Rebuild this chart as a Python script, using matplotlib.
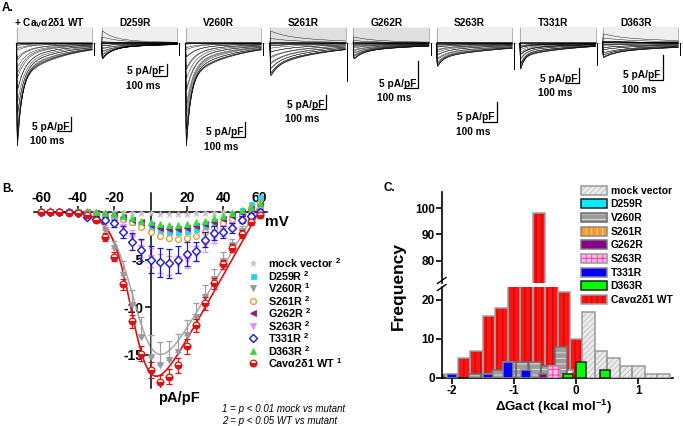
import numpy as np
import matplotlib
matplotlib.use("Agg")
import matplotlib.pyplot as plt
from matplotlib.patches import Patch
from matplotlib.lines import Line2D
from matplotlib.legend_handler import HandlerTuple

plt.rcParams["font.family"] = ["Liberation Sans", "DejaVu Sans"]
plt.rcParams["font.weight"] = "bold"
plt.rcParams["axes.unicode_minus"] = False
plt.rcParams["mathtext.fontset"] = "custom"
plt.rcParams["mathtext.rm"] = "Liberation Sans"
plt.rcParams["mathtext.bf"] = "Liberation Sans:bold"
plt.rcParams["mathtext.it"] = "Liberation Sans:italic"
plt.rcParams["hatch.linewidth"] = 0.7

W, H = 683, 426

# ── Panel A: current traces ──────────────────────────────────────────────────
TRACE_KEYS   = ["WT", "D259R", "V260R", "S261R", "G262R", "S263R", "T331R", "D363R"]
TRACE_TITLES = [r"+ Ca$_\mathbf{V}$α2δ1 WT", "D259R", "V260R", "S261R",
                "G262R", "S263R", "T331R", "D363R"]
TRACE_PEAK = [42.9, 7.1, 40.0, 12.5, 3.1, 6.3, 10.0, 3.0]     # pA/pF, largest sweep
TAU_FAST   = [30, 60, 30, 50, 60, 40, 25, 80]                  # ms
TAU_SLOW   = [320, 400, 320, 430, 500, 510, 385, 700]          # ms
SLOW_FRAC  = [0.30, 0.30, 0.30, 0.65, 0.50, 0.58, 0.44, 0.60]
TAIL_AMP   = [4.3, 5.0, 4.0, 13.5, 2.2, 6.3, 7.3, 2.4]         # pA/pF
PULSE_MS   = 540

# ── Panel B: I-V data ────────────────────────────────────────────────────────
V_MV = [-60, -55, -50, -45, -40, -35, -30, -25, -20, -15, -10, -5, 0,
        5, 10, 15, 20, 25, 30, 35, 40, 45, 50, 55, 60]
IV_MOCK  = [0, 0, 0, 0, 0, 0, 0, 0, 0, 0, -0.1, -0.1, -0.1, -0.2, -0.2, -0.2,
            -0.2, -0.1, -0.1, -0.1, 0, 0, 0.1, 0.2, 0.3]
IV_D259R = [0, 0, 0, 0, 0, 0, 0, -0.1, -0.3, -0.6, -1.0, -1.4, -1.8, -2.0, -2.1,
            -2.1, -2.0, -1.8, -1.5, -1.1, -0.7, -0.3, 0.2, 0.8, 1.6]
IV_V260R = [0, 0, 0, 0, 0, -0.1, -0.6, -1.9, -3.8, -6.6, -9.8, -13.1, -15.2,
            -16.1, -15.6, -14.7, -12.9, -11.0, -8.9, -7.0, -5.1, -3.5, -2.0, -0.9, -0.1]
IV_S261R = [0, 0, 0, 0, 0, 0, -0.1, -0.2, -0.4, -0.7, -1.1, -1.6, -2.1, -2.5, -2.7,
            -2.8, -2.7, -2.5, -2.1, -1.7, -1.2, -0.7, -0.2, 0.4, 1.0]
IV_G262R = [0, 0, 0, 0, 0, 0, -0.1, -0.2, -0.3, -0.5, -0.8, -1.1, -1.4, -1.7, -1.8,
            -1.8, -1.7, -1.5, -1.3, -1.0, -0.7, -0.4, -0.1, 0.3, 0.7]
IV_S263R = [0, 0, 0, 0, 0, -0.1, -0.3, -0.5, -0.9, -1.6, -2.6, -3.8, -4.8, -5.4, -5.6,
            -5.5, -5.0, -4.4, -3.5, -2.7, -2.0, -1.4, -0.8, -0.3, 0.2]
IV_T331R = [0, 0, 0, 0, -0.1, -0.5, -0.7, -0.8, -1.2, -2.1, -3.1, -4.0, -5.0, -5.3,
            -5.4, -5.0, -4.4, -4.1, -2.9, -2.2, -2.1, -1.7, -0.8, -0.4, 0.0]
IV_D363R = [0.2, 0.2, 0.1, 0.1, 0.1, 0.1, 0.0, -0.1, -0.2, -0.4, -0.6, -0.9, -1.1,
            -1.3, -1.4, -1.4, -1.3, -1.1, -0.9, -0.6, -0.4, -0.1, 0.2, 0.5, 0.9]
IV_WT    = [0, 0, 0, -0.1, -0.1, -0.3, -0.8, -2.6, -4.7, -7.6, -11.5, -14.9, -16.6,
            -17.9, -17.3, -16.1, -14.1, -11.9, -9.6, -7.5, -5.5, -3.8, -2.3, -1.1, -0.3]

ERR_WT    = [0.1] * 6 + [0.3, 0.4, 0.5, 0.6, 0.7, 0.8, 0.8, 0.8, 0.8, 0.8, 0.8,
                         0.7, 0.7, 0.6, 0.5, 0.4, 0.4, 0.3, 0.3]
ERR_V260R = [0.1] * 6 + [0.3, 0.5, 0.8, 1.4, 1.6, 2.1, 2.3, 2.4, 2.0, 1.9, 1.5,
                         1.4, 1.2, 1.0, 0.9, 0.7, 0.5, 0.3, 0.2]
ERR_T331R = [0.1] * 5 + [0.2, 0.3, 0.3, 0.4, 0.6, 0.9, 1.2, 1.4, 1.5, 1.5, 1.4,
                         1.3, 1.0, 0.8, 0.7, 0.6, 0.5, 0.4, 0.3, 0.3]
ERR_S263R = [0.1] * 6 + [0.2, 0.3, 0.4, 0.5, 0.7, 0.9, 1.0, 1.0, 1.0, 0.9, 0.9,
                         0.8, 0.7, 0.6, 0.5, 0.4, 0.3, 0.3, 0.2]

# Boltzmann-ohmic fit parameters (gmax, V50, slope k, Erev)
FIT_WT    = (0.34, -9.0, 5.5, 59.5)
FIT_V260R = (0.33, -7.0, 6.5, 57.5)

# ── Panel C: ΔGact histograms (bin centre, count, bin width) ─────────────────
HIST = {
    "WT":    ([-2.2, -1.8, -1.6, -1.4, -1.2, -1.0, -0.8, -0.6, -0.4, -0.2, 0.0],
              [1, 5, 7, 16, 18, 38, 45, 98, 32, 22, 10], 0.20),
    "mock":  ([-0.15, 0.2, 0.4, 0.6, 0.8, 1.0, 1.2, 1.4],
              [2, 17, 7, 5, 3, 3, 1, 1], 0.20),
    "V260R": ([-1.63, -1.44, -1.26, -1.06, -0.87, -0.66, -0.47, -0.25],
              [1, 1, 2, 4, 4, 4, 3, 8], 0.19),
    "S261R": ([], [], 0.19),
    "D259R": ([], [], 0.19),
    "G262R": ([-0.53], [1], 0.13),
    "S263R": ([-0.36], [3], 0.19),
    "T331R": ([-2.0, -1.42, -1.1, -0.8], [1, 1, 4, 2], 0.16),
    "D363R": ([-0.13, 0.07, 0.46], [1, 4, 2], 0.16),
}


def rect(x0, y0, x1, y1):
    """pixel box (top-left origin) -> figure fraction rect"""
    return [x0 / W, 1 - y1 / H, (x1 - x0) / W, (y1 - y0) / H]


def ftext(x, y, s, **kw):
    fig.text(x / W, 1 - y / H, s, **kw)


def boltz(v, g, v50, k, erev):
    return g * (v - erev) / (1 + np.exp((v50 - v) / k))


fig = plt.figure(figsize=(W / 100, H / 100), dpi=100)

# ── A. traces ────────────────────────────────────────────────────────────────
iv_by_key = {"WT": IV_WT, "D259R": IV_D259R, "V260R": IV_V260R, "S261R": IV_S261R,
             "G262R": IV_G262R, "S263R": IV_S263R, "T331R": IV_T331R, "D363R": IV_D363R}
x_start  = [16.7, 101.7, 185.7, 270, 353.3, 436.7, 520, 602.7]
bar_px   = [14, 12, 15, 14, 27, 20, 15, 25]          # px per 5 pA/pF
bar_corner = [(71, 131), (166.7, 76), (245, 136.7), (326, 109.3),
              (418.3, 88.3), (496.7, 121.7), (579.3, 83.3), (662.7, 80)]
shaded_box = [False, False, False, True, True, False, False, False]
MS_PX = 0.14                     # px per ms
BASE_Y, TOP_Y, BOT_Y = 43.3, 18, 180
t = np.linspace(0, PULSE_MS, 500)

for i, key in enumerate(TRACE_KEYS):
    x0 = x_start[i]
    ax = fig.add_axes(rect(x0 - 4, TOP_Y, x0 + 88, BOT_Y))
    g = bar_px[i] / 5.0
    ax.set_xlim(-4 / MS_PX, 88 / MS_PX)
    ax.set_ylim(-(BOT_Y - BASE_Y) / g, (BASE_Y - TOP_Y) / g)
    ax.axis("off")

    # voltage protocol box
    top = 15.3 / g
    if shaded_box[i]:
        ax.fill_between([0, PULSE_MS], 1.0 / g, top, color="#ececec", lw=0)
    for lev in np.linspace(1.5 / g, top, 8):
        ax.plot([0, PULSE_MS], [lev, lev], color="#b4b4b4", lw=0.3)
    ax.plot([0, 0], [0, top], color="#888888", lw=0.45)
    ax.plot([PULSE_MS, PULSE_MS], [0, top], color="#888888", lw=0.45)
    ax.plot([-15, PULSE_MS + 25], [0, 0], color="#b0b0b0", lw=0.5)

    iv = np.array(iv_by_key[key])
    rel = iv / iv.min()
    for r in rel:
        tf = TAU_FAST[i] * (1 + 1.5 * (1 - abs(r)))
        decay = (1 - SLOW_FRAC[i]) * np.exp(-t / tf) + SLOW_FRAC[i] * np.exp(-t / TAU_SLOW[i])
        act = 1 - np.exp(-t / 1.5)
        ax.plot(t, -TRACE_PEAK[i] * r * decay * act, color="black", lw=0.3)
    ax.plot([PULSE_MS + 12, PULSE_MS + 12], [0, -TAIL_AMP[i]], color="black", lw=0.7)

    # scale bar: 100 ms x 5 pA/pF
    cx, cy = bar_corner[i]
    inv = ax.transData.inverted()
    tc, ic = inv.transform(fig.transFigure.transform((cx / W, 1 - cy / H)))
    ax.plot([tc - 100, tc, tc], [ic, ic, ic + 5], color="black", lw=0.9,
            solid_joinstyle="miter")
    ftext(cx - 2, cy - 4.5, "5 pA/pF", ha="right", va="center", fontsize=7.3)
    ftext(cx - 24, cy + 10, "100 ms", ha="center", va="center", fontsize=7.3)
    ftext(x0 + 33, 23.5, TRACE_TITLES[i], ha="center", va="center", fontsize=7.3)

ftext(2, 8, "A.", ha="left", va="center", fontsize=8.5)

# ── B. I-V curves ────────────────────────────────────────────────────────────
ax_b = fig.add_axes(rect(34, 193, 267, 388))
ax_b.set_xlim(-64, 64)
ax_b.set_ylim(-18.5, 2.0)
ax_b.spines["left"].set_position(("data", 0))
ax_b.spines["top"].set_position(("data", 0))
ax_b.spines["right"].set_visible(False)
ax_b.spines["bottom"].set_visible(False)
for s in ("left", "top"):
    ax_b.spines[s].set_linewidth(1.1)
ax_b.xaxis.tick_top()
ax_b.set_xticks([-60, -40, -20, 20, 40, 60])
ax_b.set_yticks([-15, -10, -5])
ax_b.tick_params(labelsize=10, length=4, width=1.1, pad=1)
ax_b.patch.set_alpha(0)

vfit = np.linspace(-60, 62, 300)
ax_b.plot(vfit, boltz(vfit, *FIT_V260R), color="#a0a0a0", lw=1.0, zorder=2)
ax_b.plot(vfit, boltz(vfit, *FIT_WT), color="#dd1111", lw=1.2, zorder=2)

series = [
    ("mock vector", "2", IV_MOCK, None, dict(marker="*", color="#c4c4c4", ms=5)),
    ("D259R", "2", IV_D259R, None, dict(marker="s", color="#22d8ee", ms=3.6)),
    ("V260R", "1", IV_V260R, ("up", ERR_V260R, "#a0a0a0"),
     dict(marker="v", color="#999999", ms=5)),
    ("S261R", "2", IV_S261R, None, dict(marker="o", mfc="white", mec="#e8953a", ms=4.2, mew=0.9)),
    ("G262R", "2", IV_G262R, None, dict(marker="<", color="#8a1a8a", ms=4.2)),
    ("S263R", "2", IV_S263R, ("both", ERR_S263R, "#ee88ee"),
     dict(marker="v", color="#ee88ee", ms=4.5)),
    ("T331R", "2", IV_T331R, ("both", ERR_T331R, "#1a1acc"),
     dict(marker="D", mfc="white", mec="#1a1acc", ms=4.2, mew=1.0)),
    ("D363R", "2", IV_D363R, None, dict(marker="^", color="#33dd33", ms=4.8)),
    ("Cavα2δ1 WT", "1", IV_WT, ("both", ERR_WT, "#dd1111"),
     dict(marker="o", mfc="#dd1111", mec="#dd1111", mfcalt="white",
          fillstyle="bottom", ms=4.8, mew=0.9)),
]

handles = []
for z, (lab, sup, vals, err, st) in enumerate(series):
    if err is not None:
        kind, e, ec = err
        yerr = [np.zeros(len(e)), e] if kind == "up" else e
        ax_b.errorbar(V_MV, vals, yerr=yerr, fmt="none", ecolor=ec, elinewidth=0.9,
                      capsize=2.3, capthick=0.9, zorder=3 + z)
    st = dict(st)
    st.setdefault("mfc", st.get("color"))
    st.setdefault("mec", st.get("color"))
    kw = dict(marker=st["marker"], markersize=st["ms"], markerfacecolor=st["mfc"],
              markeredgecolor=st["mec"], markeredgewidth=st.get("mew", 0.6),
              fillstyle=st.get("fillstyle", "full"), linestyle="none")
    if "mfcalt" in st:
        kw["markerfacecoloralt"] = st["mfcalt"]
    ax_b.plot(V_MV, vals, zorder=3.5 + z, clip_on=False, **kw)
    handles.append((lab, sup, kw))

for j, (lab, sup, kw) in enumerate(handles):
    y = 263.3 + 12.5 * j
    fig.add_artist(Line2D([253 / W], [1 - y / H], transform=fig.transFigure, **kw))
    ftext(268, y, lab + r" $^\mathrm{" + sup + "}$", ha="left", va="center", fontsize=7.8)

ftext(277, 222, "mV", ha="center", va="center", fontsize=11)
ftext(179, 398, "pA/pF", ha="center", va="center", fontsize=10.5)
ftext(222, 409, "1 = p < 0.01 mock vs mutant", ha="left", va="center",
      fontsize=7, style="italic", fontweight="normal")
ftext(222, 421, "2 = p < 0.05 WT vs mutant", ha="left", va="center",
      fontsize=7, style="italic", fontweight="normal")
ftext(2, 189, "B.", ha="left", va="center", fontsize=8.5)

# ── C. ΔGact histogram with broken axis ──────────────────────────────────────
ax_hi = fig.add_axes(rect(441.7, 191.7, 673.3, 282.7))
ax_lo = fig.add_axes(rect(441.7, 286.7, 673.3, 378))
for a in (ax_hi, ax_lo):
    a.set_xlim(-2.16, 1.56)
    a.spines["top"].set_visible(False)
    a.spines["right"].set_visible(False)
    a.spines["left"].set_linewidth(1.2)
    a.spines["bottom"].set_linewidth(1.2)
    a.tick_params(labelsize=8.5, length=4, width=1.2, pad=1)
    a.patch.set_alpha(0)
ax_hi.set_ylim(71.6, 106.2)
ax_hi.spines["bottom"].set_visible(False)
ax_hi.set_xticks([])
ax_hi.set_yticks([80, 90, 100])
ax_lo.set_ylim(0, 23.4)
ax_lo.set_yticks([0, 10, 20])
ax_lo.set_xticks([-2, -1, 0, 1])

# (fill, hatch, hatch colour, edge colour)
hist_style = {
    "mock":  ("#ebebeb", "//////", "#c4c4c4", "#9a9a9a"),
    "D259R": ("#00eeff", None, "#00eeff", "#222222"),
    "V260R": ("#9c9c9c", "---", "#dcdcdc", "#6a6a6a"),
    "S261R": ("#f59a2e", "|||", "#fcd09a", "#888888"),
    "G262R": ("#880088", None, "#880088", "#777777"),
    "S263R": ("#ffb8e8", "+++", "#ff3aa8", "#999999"),
    "T331R": ("#0000ff", None, "#0000ff", "#888888"),
    "D363R": ("#00ff00", None, "#00ff00", "#222222"),
    "WT":    ("#ff1414", "|||", "#c80000", "#a0a0a0"),
}
draw_order = ["WT", "mock", "V260R", "S261R", "D259R", "G262R", "S263R", "T331R", "D363R"]
for a in (ax_hi, ax_lo):
    for k, key in enumerate(draw_order):
        xs, ns, wd = HIST[key]
        if not xs:
            continue
        fc, hatch, hc, ec = hist_style[key]
        a.bar(xs, ns, width=wd, color=fc, edgecolor=hc, hatch=hatch, lw=0, zorder=2 + k)
        a.bar(xs, ns, width=wd, facecolor="none", edgecolor=ec, lw=1.1, zorder=2 + k)

# break marks on the y axis
for yb in (280.5, 287.5):
    fig.add_artist(Line2D([437.5 / W, 446 / W], [1 - (yb + 3) / H, 1 - (yb - 3) / H],
                          transform=fig.transFigure, color="black", lw=1.0))

leg_keys = ["mock", "D259R", "V260R", "S261R", "G262R", "S263R", "T331R", "D363R", "WT"]
leg_labels = ["mock vector", "D259R", "V260R", "S261R", "G262R", "S263R", "T331R",
              "D363R", "Cavα2δ1 WT"]
leg_handles = []
for key in leg_keys:
    fc, hatch, hc, ec = hist_style[key]
    leg_handles.append((Patch(facecolor=fc, edgecolor=hc, hatch=hatch, lw=0),
                        Patch(facecolor="none", edgecolor=ec, lw=1.1)))
fig.legend(leg_handles, leg_labels, handler_map={tuple: HandlerTuple(ndivide=1)},
           loc="upper left", bbox_to_anchor=(581 / W, 1 - 185.5 / H), frameon=False,
           fontsize=7.5, handlelength=2.5, handleheight=1.0, labelspacing=0.33,
           handletextpad=0.35, borderpad=0, borderaxespad=0)

ftext(398, 286, "Frequency", rotation=90, ha="center", va="center", fontsize=12.5)
ftext(553, 407, r"ΔGact (kcal mol$^{\mathbf{-1}}$)", ha="center", va="center", fontsize=9.5)
ftext(383, 188, "C.", ha="left", va="center", fontsize=8.5)

fig.savefig("out.png", dpi=100)
